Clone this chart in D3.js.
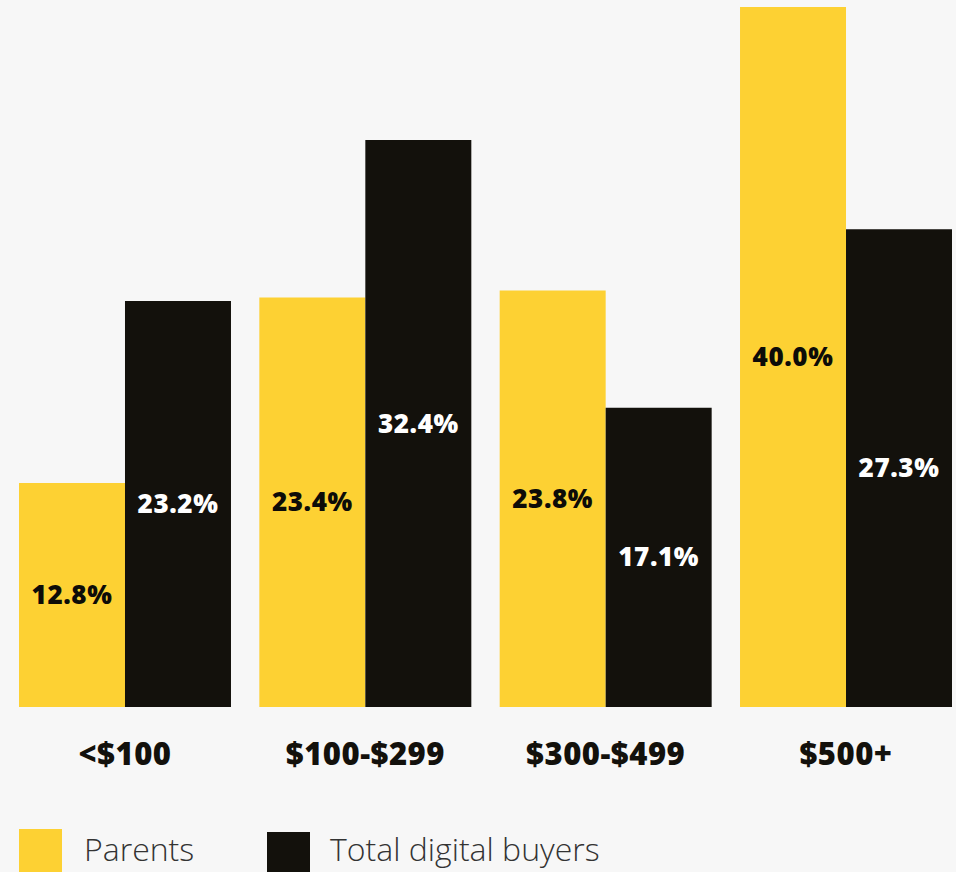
<!DOCTYPE html>
<html>
<head>
<meta charset="utf-8">
<script src="https://cdn.jsdelivr.net/npm/d3@7"></script>
<style>
  html, body { margin: 0; padding: 0; background: #f7f7f7; }
  svg { display: block; }
</style>
</head>
<body>
<svg id="chart" width="956" height="872"></svg>
<script>
// Share of spend by price bracket
const categories = ["<$100", "$100-$299", "$300-$499", "$500+"];
const seriesNames = ["Parents", "Total digital buyers"];
const parents = [12.8, 23.4, 23.8, 40.0];
const totalDigitalBuyers = [23.2, 32.4, 17.1, 27.3];

const colors = { "Parents": "#fdd133", "Total digital buyers": "#13110c" };
const labelColors = { "Parents": "#0d0c08", "Total digital buyers": "#ffffff" };

const rows = categories.map((c, i) => ({
  category: c,
  values: [
    { key: seriesNames[0], value: parents[i] },
    { key: seriesNames[1], value: totalDigitalBuyers[i] }
  ]
}));

const svg = d3.select("#chart");
const plotLeft = 19, plotRight = 952, baseline = 707, plotTop = 7;

const x0 = d3.scaleBand()
  .domain(categories)
  .range([plotLeft, plotRight])
  .paddingInner(0.118)
  .paddingOuter(0);

const x1 = d3.scaleBand()
  .domain(seriesNames)
  .range([0, x0.bandwidth()])
  .padding(0);

const y = d3.scaleLinear().domain([0, 40]).range([baseline, plotTop]);

const fmt = d => d.toFixed(1) + "%";

const groups = svg.append("g")
  .selectAll("g")
  .data(rows)
  .join("g")
  .attr("transform", d => `translate(${x0(d.category)},0)`);

groups.selectAll("rect")
  .data(d => d.values)
  .join("rect")
  .attr("x", d => x1(d.key))
  .attr("y", d => y(d.value))
  .attr("width", x1.bandwidth())
  .attr("height", d => baseline - y(d.value))
  .attr("fill", d => colors[d.key]);

groups.selectAll("text.value")
  .data(d => d.values)
  .join("text")
  .attr("class", "value")
  .attr("x", d => x1(d.key) + x1.bandwidth() / 2)
  .attr("y", d => (y(d.value) + baseline) / 2)
  .attr("dy", "0.35em")
  .attr("text-anchor", "middle")
  .attr("font-family", "'Open Sans', sans-serif")
  .attr("font-weight", 800)
  .attr("font-size", 26)
  .attr("letter-spacing", 0.6)
  .attr("fill", d => labelColors[d.key])
  .text(d => fmt(d.value));

// Category axis labels below the bars
const xAxis = d3.axisBottom(x0).tickSize(0).tickPadding(0);
const axisG = svg.append("g")
  .attr("transform", `translate(0,${baseline})`)
  .call(xAxis);
axisG.select(".domain").remove();
axisG.selectAll("text")
  .attr("y", 47)
  .attr("dy", "0.35em")
  .attr("font-family", "'Open Sans', sans-serif")
  .attr("font-weight", 800)
  .attr("font-size", 31)
  .attr("letter-spacing", 0.5)
  .attr("fill", "#13110c");

// Legend
const legendX = [19, 267];
const legend = svg.append("g")
  .selectAll("g")
  .data(seriesNames)
  .join("g")
  .attr("transform", (d, i) => `translate(${legendX[i]},${i === 0 ? 829 : 832})`);

legend.append("rect")
  .attr("width", 43)
  .attr("height", 50)
  .attr("fill", d => colors[d]);

legend.append("text")
  .attr("x", (d, i) => i === 0 ? 65 : 63)
  .attr("y", (d, i) => i === 0 ? 21 : 18)
  .attr("dy", "0.35em")
  .attr("font-family", "'Open Sans', sans-serif")
  .attr("font-weight", 300)
  .attr("font-size", 32)
  .attr("fill", "#333333")
  .text(d => d);
</script>
</body>
</html>
